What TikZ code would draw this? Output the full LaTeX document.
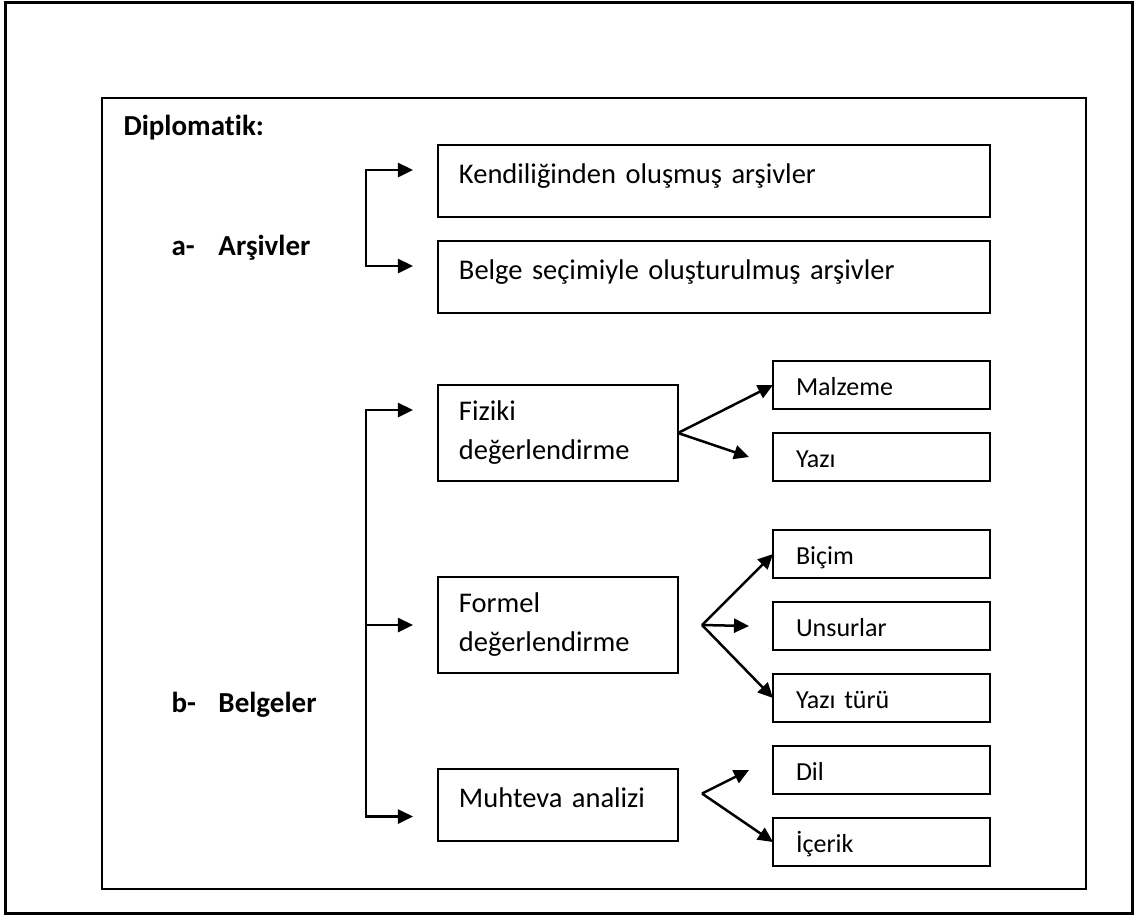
\documentclass[tikz,border=0pt]{standalone}
\usepackage{fontspec}
\setmainfont{Carlito}[Ligatures=NoCommon]
\usepackage{tikz}
\usetikzlibrary{positioning, arrows.meta}

\begin{document}
\begin{tikzpicture}[
    x=0.4pt, y=-0.4pt,
    node distance=9.6pt,
    >={Triangle[length=6pt, width=5.6pt]},
    box/.style={rectangle, draw, line width=0.8pt, outer sep=0pt, inner ysep=2pt, align=left},
    oneline/.style={minimum height=28.8pt, text height=9pt, text depth=7.4pt},
    wide/.style={box, oneline, text width=204pt, inner xsep=8.4pt, font=\fontsize{11.4pt}{15.6pt}\selectfont},
    branch/.style={box, text width=79.2pt, inner xsep=8.4pt, minimum height=38.4pt, font=\fontsize{11.4pt}{15.6pt}\selectfont},
    leaf/.style={box, text width=68.4pt, inner xsep=9.2pt, minimum height=19.2pt, text height=8.5pt, text depth=0pt, font=\fontsize{10.4pt}{12pt}\selectfont},
    heading/.style={anchor=base west, inner sep=0pt, font=\fontsize{11.6pt}{15.6pt}\selectfont\bfseries},
    link/.style={->, line width=1pt}
]
\useasboundingbox (0,0) rectangle (1141,915);

% Frames
\draw[line width=1.2pt] (5,2.5) rectangle (1132.5,913);
\draw[line width=0.8pt] (102,97.5) rectangle (1086,889);

% Title and group labels
\node[heading] (diplo) at (123,135) {Diplomatik:};
\node[heading] (arsiv) at (171,255) {\makebox[18.8pt][l]{a-}Arşivler};
\node[heading] (belge) at (171,712) {\makebox[18.8pt][l]{b-}Belgeler};

% Archives
\node[wide] (kendi) at (714,181) {Kendiliğinden oluşmuş arşivler};
\node[wide, below=of kendi] (secim) {Belge seçimiyle oluşturulmuş arşivler};

% Documents
\node[branch, below=28.8pt of secim.south west, anchor=north west] (fiziki) {Fiziki\\değerlendirme};
\node[branch, below=38.4pt of fiziki] (formel) {Formel\\değerlendirme};
\node[branch, oneline, below=38.4pt of formel] (muhteva) {Muhteva analizi};

% Sub-items
\node[leaf, right=38pt of fiziki.north east, anchor=west] (malzeme) {Malzeme};
\node[leaf, below=of malzeme] (yazi) {Yazı};
\node[leaf, below=19.6pt of yazi] (bicim) {Biçim};
\node[leaf, below=of bicim] (unsur) {Unsurlar};
\node[leaf, below=of unsur] (yazitur) {Yazı türü};
\node[leaf, below=of yazitur] (dil) {Dil};
\node[leaf, below=of dil] (icerik) {İçerik};

% Arrow ends
\coordinate (kin) at ([xshift=-10pt, yshift=4.4pt]kendi.west);
\coordinate (sin) at ([xshift=-10pt, yshift=4.4pt]secim.west);
\coordinate (fin) at ([xshift=-10pt, yshift=9.2pt]fiziki.west);
\coordinate (foin) at ([xshift=-10pt]formel.west);
\coordinate (muin) at ([xshift=-10pt, yshift=-4.6pt]muhteva.west);
\coordinate (yazin) at ([xshift=-9.6pt]yazi.west);
\coordinate (unsin) at ([xshift=-9.6pt]unsur.west);
\coordinate (dilin) at ([xshift=-9.6pt]dil.west);
\coordinate (fofork) at ([xshift=9.6pt]formel.east);
\coordinate (mufork) at ([xshift=9.6pt, yshift=4.6pt]muhteva.east);

% Brackets
\draw[link, <->] (kin) -- ++(-18.8pt,0) |- (sin);
\draw[link, <->] (fin) -- ++(-18.8pt,0) coordinate (spine) |- (muin);
\draw[link] (spine |- foin) -- (foin);

% Forks
\draw[link] (fiziki.east) -- (malzeme.west);
\draw[link] (fiziki.east) -- (yazin);
\draw[link] (fofork) -- (bicim.west);
\draw[link] (fofork) -- (unsin);
\draw[link] (fofork) -- (yazitur.west);
\draw[link] (mufork) -- (dilin);
\draw[link] (mufork) -- (icerik.west);

\end{tikzpicture}
\end{document}
